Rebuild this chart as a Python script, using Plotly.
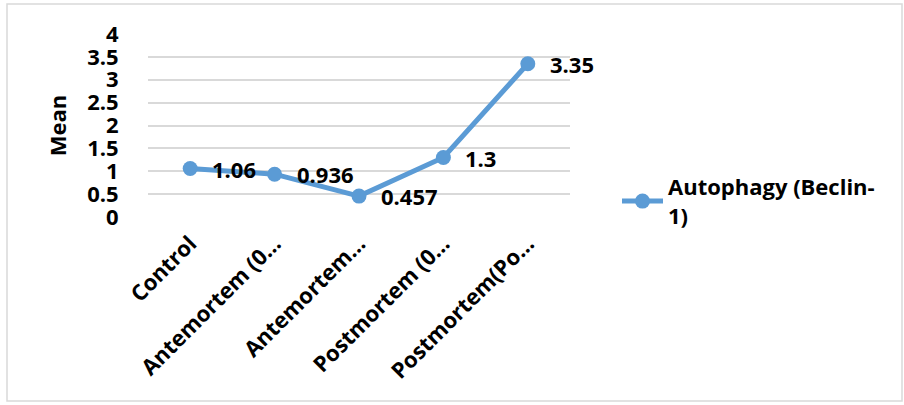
import plotly.graph_objects as go

categories = ["Control", "Antemortem (0…", "Antemortem…", "Postmortem (0…", "Postmortem(Po…"]
values = [1.06, 0.936, 0.457, 1.3, 3.35]
value_labels = ["1.06", "0.936", "0.457", "1.3", "3.35"]
series_name = "Autophagy (Beclin-<br>1)"
y_ticks = [0, 0.5, 1, 1.5, 2, 2.5, 3, 3.5, 4]

FONT = "Open Sans"
FS = 22
BLUE = "#5B9BD5"

fig = go.Figure()
fig.add_trace(go.Scatter(
    x=list(range(len(categories))), y=values, mode="lines+markers",
    name=series_name,
    line=dict(color=BLUE, width=5), marker=dict(color=BLUE, size=15),
    cliponaxis=False,
))

for i, (v, t) in enumerate(zip(values, value_labels)):
    fig.add_annotation(x=i, y=v, text=t, showarrow=False, xanchor="left",
                       yanchor="middle", xshift=20, yshift=0,
                       font=dict(family=FONT, size=FS, color="#000000", weight="bold"))

L, R, T, B = 148, 334, 34, 188
W, H = 904, 405
pw, ph = W - L - R, H - T - B

def px(xp):
    return (xp - L) / pw

def py(yp):
    return (H - B - yp) / ph

fig.add_shape(type="rect", xref="paper", yref="paper",
              x0=px(7), x1=px(902), y0=py(401), y1=py(4),
              line=dict(color="#d9d9d9", width=1.5), fillcolor="rgba(0,0,0,0)", layer="below")

fig.update_layout(
    width=W, height=H, margin=dict(l=L, r=R, t=T, b=B),
    paper_bgcolor="white", plot_bgcolor="white",
    font=dict(family=FONT, size=FS, color="#000000"),
    showlegend=True,
    legend=dict(x=px(617), y=py(166), xanchor="left", yanchor="top",
                font=dict(family=FONT, size=FS, color="#000000", weight="bold"),
                itemwidth=41, bgcolor="rgba(0,0,0,0)", tracegroupgap=0),
    xaxis=dict(range=[-0.5, len(categories) - 0.5], tickmode="array",
               tickvals=list(range(len(categories))), ticktext=categories,
               tickangle=-45, showgrid=False, zeroline=False, showline=False,
               ticks="outside", ticklen=4, tickcolor="rgba(0,0,0,0)",
               tickfont=dict(family=FONT, size=FS, weight="bold")),
    yaxis=dict(range=[0, 4], tickmode="array", tickvals=y_ticks,
               ticktext=[f"{v:g}" for v in y_ticks],
               showgrid=True, gridcolor="#d9d9d9", gridwidth=1.5,
               zeroline=False, showline=False,
               ticks="outside", ticklen=24, tickcolor="rgba(0,0,0,0)",
               tickfont=dict(family=FONT, size=FS, weight="bold"),
               title=dict(text="Mean", font=dict(family=FONT, size=FS, weight="bold"), standoff=14)),
)

fig.write_html("out.html")
